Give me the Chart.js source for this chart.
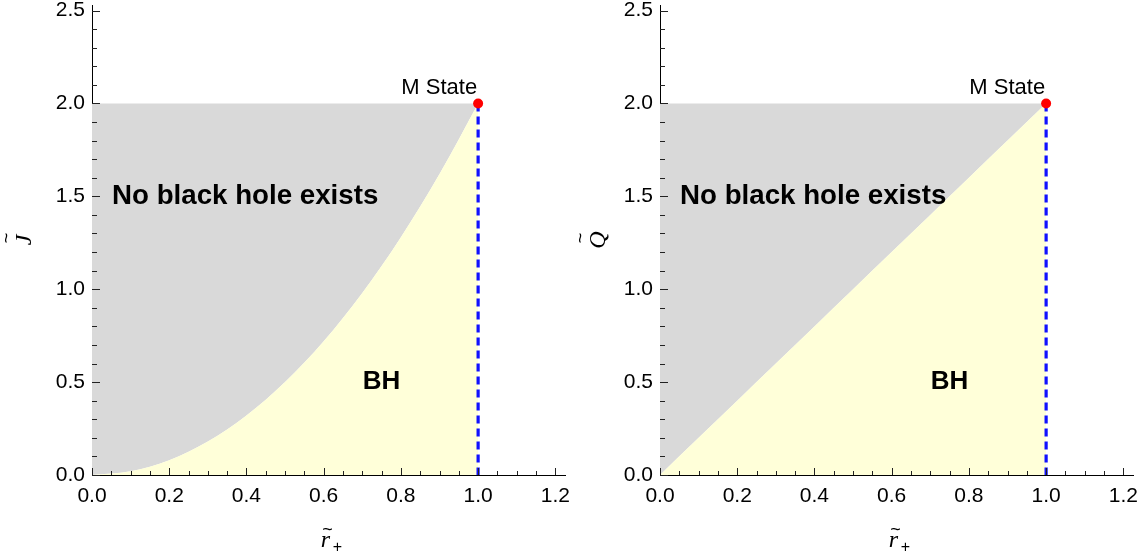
<!DOCTYPE html>
<html>
<head>
<meta charset="utf-8">
<script src="https://cdn.jsdelivr.net/npm/chart.js@4.4.1/dist/chart.umd.min.js"></script>
<style>
  body { margin: 0; background: #fff; }
  .wrap { display: flex; width: 1148px; height: 560px; }
  .panel { position: relative; width: 574px; height: 560px; }
</style>
</head>
<body>
<div class="wrap">
  <div class="panel"><canvas id="chartJ"></canvas></div>
  <div class="panel"><canvas id="chartQ"></canvas></div>
</div>
<script>
// horizon radius samples and the boundary of the black hole region
const rPlus = [0, 0.1, 0.2, 0.3, 0.4, 0.5, 0.6, 0.7, 0.8, 0.9, 1.0];
const jBoundary = [0, 0.02, 0.08, 0.18, 0.32, 0.5, 0.72, 0.98, 1.28, 1.62, 2.0];
const qBoundary = [0, 0.2, 0.4, 0.6, 0.8, 1.0, 1.2, 1.4, 1.6, 1.8, 2.0];

// extremal point
const mStateR = 1.0;
const mStateValue = 2.0;

// labelled ticks
const xMajor = [0, 0.2, 0.4, 0.6, 0.8, 1.0, 1.2];
const yMajor = [0, 0.5, 1.0, 1.5, 2.0, 2.5];

const GRAY = 'rgb(217,217,217)';
const YELLOW = 'rgb(255,255,217)';
const SANS = '"Liberation Sans", Arial, sans-serif';
const SERIF = '"Liberation Serif", "Times New Roman", serif';

const isMajor = (v, list) => list.some(m => Math.abs(m - v) < 1e-6);
const pts = (xs, ys) => xs.map((x, i) => ({ x: x, y: ys[i] }));

// inward tick marks, axis titles and region labels
const decor = {
  id: 'decor',
  afterDraw(chart, args, opts) {
    const ctx = chart.ctx;
    const xs = chart.scales.x, ys = chart.scales.y;
    const area = chart.chartArea;
    ctx.save();
    ctx.strokeStyle = '#222';
    ctx.lineWidth = 1;
    ctx.beginPath();
    xs.ticks.forEach(t => {
      const px = Math.round(xs.getPixelForValue(t.value)) + 0.5;
      const len = isMajor(t.value, xMajor) ? 7 : 4;
      ctx.moveTo(px, area.bottom);
      ctx.lineTo(px, area.bottom - len);
    });
    ys.ticks.forEach(t => {
      const py = Math.round(ys.getPixelForValue(t.value)) + 0.5;
      const len = isMajor(t.value, yMajor) ? 8 : 5;
      ctx.moveTo(area.left, py);
      ctx.lineTo(area.left + len, py);
    });
    ctx.stroke();

    ctx.fillStyle = '#000';
    // M State label
    ctx.font = '22px ' + SANS;
    ctx.textAlign = 'right';
    ctx.textBaseline = 'alphabetic';
    ctx.fillText('M State', xs.getPixelForValue(mStateR) - 1, ys.getPixelForValue(mStateValue) - 9);

    // region labels
    ctx.font = 'bold 27.7px ' + SANS;
    ctx.textAlign = 'left';
    ctx.textBaseline = 'middle';
    ctx.fillText('No black hole exists', xs.getPixelForValue(0.052), ys.getPixelForValue(1.5));
    ctx.font = 'bold 26px ' + SANS;
    ctx.textAlign = 'center';
    ctx.fillText('BH', xs.getPixelForValue(0.75), ys.getPixelForValue(0.5));

    // x title: r with tilde and subscript +
    const cx = (area.left + area.right) / 2;
    const by = area.bottom + 72;
    ctx.font = 'italic 24px ' + SERIF;
    ctx.textAlign = 'center';
    ctx.textBaseline = 'alphabetic';
    ctx.fillText('r', cx - 3, by);
    ctx.font = '18px ' + SANS;
    ctx.fillText('~', cx - 1, by - 12);
    ctx.font = '16px ' + SANS;
    ctx.fillText('+', cx + 9, by + 5);

    // y title, rotated
    const cy = (area.top + area.bottom) / 2;
    ctx.translate(23, cy);
    ctx.rotate(-Math.PI / 2);
    ctx.font = 'italic 24px ' + SERIF;
    ctx.textAlign = 'center';
    ctx.textBaseline = 'alphabetic';
    ctx.fillText(opts.symbol, 0, 8);
    ctx.font = '18px ' + SANS;
    ctx.fillText('~', 2, -11);
    ctx.restore();
  }
};

function makePanel(id, boundary, symbol, yWidth, padRight) {
  const curve = pts(rPlus, boundary);
  new Chart(document.getElementById(id), {
    type: 'line',
    data: {
      datasets: [
        {
          // forbidden region above the boundary
          data: curve,
          fill: { target: { value: 2 } },
          backgroundColor: GRAY,
          borderWidth: 0,
          pointRadius: 0,
          cubicInterpolationMode: 'monotone',
          order: 3
        },
        {
          // black hole region below the boundary
          data: curve,
          fill: 'origin',
          backgroundColor: YELLOW,
          borderWidth: 0,
          pointRadius: 0,
          cubicInterpolationMode: 'monotone',
          order: 2
        },
        {
          data: [{ x: mStateR, y: mStateValue }, { x: mStateR, y: 0 }],
          borderColor: '#1010ff',
          borderWidth: 3.2,
          borderDash: [8, 5],
          pointRadius: 0,
          fill: false,
          order: 1
        },
        {
          data: [{ x: mStateR, y: mStateValue }],
          showLine: false,
          pointRadius: 5,
          pointBackgroundColor: '#ff0000',
          pointBorderWidth: 0,
          order: 0
        }
      ]
    },
    options: {
      responsive: true,
      maintainAspectRatio: false,
      animation: false,
      layout: { padding: { top: 3, right: padRight, left: 0, bottom: 0 } },
      plugins: {
        legend: { display: false },
        tooltip: { enabled: false },
        decor: { symbol: symbol }
      },
      scales: {
        x: {
          type: 'linear',
          min: 0,
          max: 1.225,
          grid: { drawOnChartArea: false, drawTicks: false },
          border: { color: '#000', width: 1 },
          ticks: {
            stepSize: 0.05,
            includeBounds: false,
            autoSkip: false,
            maxRotation: 0,
            padding: 9,
            color: '#000',
            font: { family: SANS, size: 21 },
            callback: v => isMajor(v, xMajor) ? v.toFixed(1) : ''
          },
          afterFit(s) { s.height = 85; s.paddingLeft = 0; s.paddingRight = 0; }
        },
        y: {
          min: 0,
          max: 2.53,
          grid: { drawOnChartArea: false, drawTicks: false },
          border: { color: '#000', width: 1 },
          ticks: {
            stepSize: 0.1,
            includeBounds: false,
            autoSkip: false,
            padding: 7,
            color: '#000',
            font: { family: SANS, size: 21 },
            callback: v => isMajor(v, yMajor) ? v.toFixed(1) : ''
          },
          afterFit(s) { s.width = yWidth; s.paddingTop = 0; s.paddingBottom = 0; }
        }
      }
    },
    plugins: [decor]
  });
}

makePanel('chartJ', jBoundary, 'J', 92, 9);
makePanel('chartQ', qBoundary, 'Q', 86, 15);
</script>
</body>
</html>
